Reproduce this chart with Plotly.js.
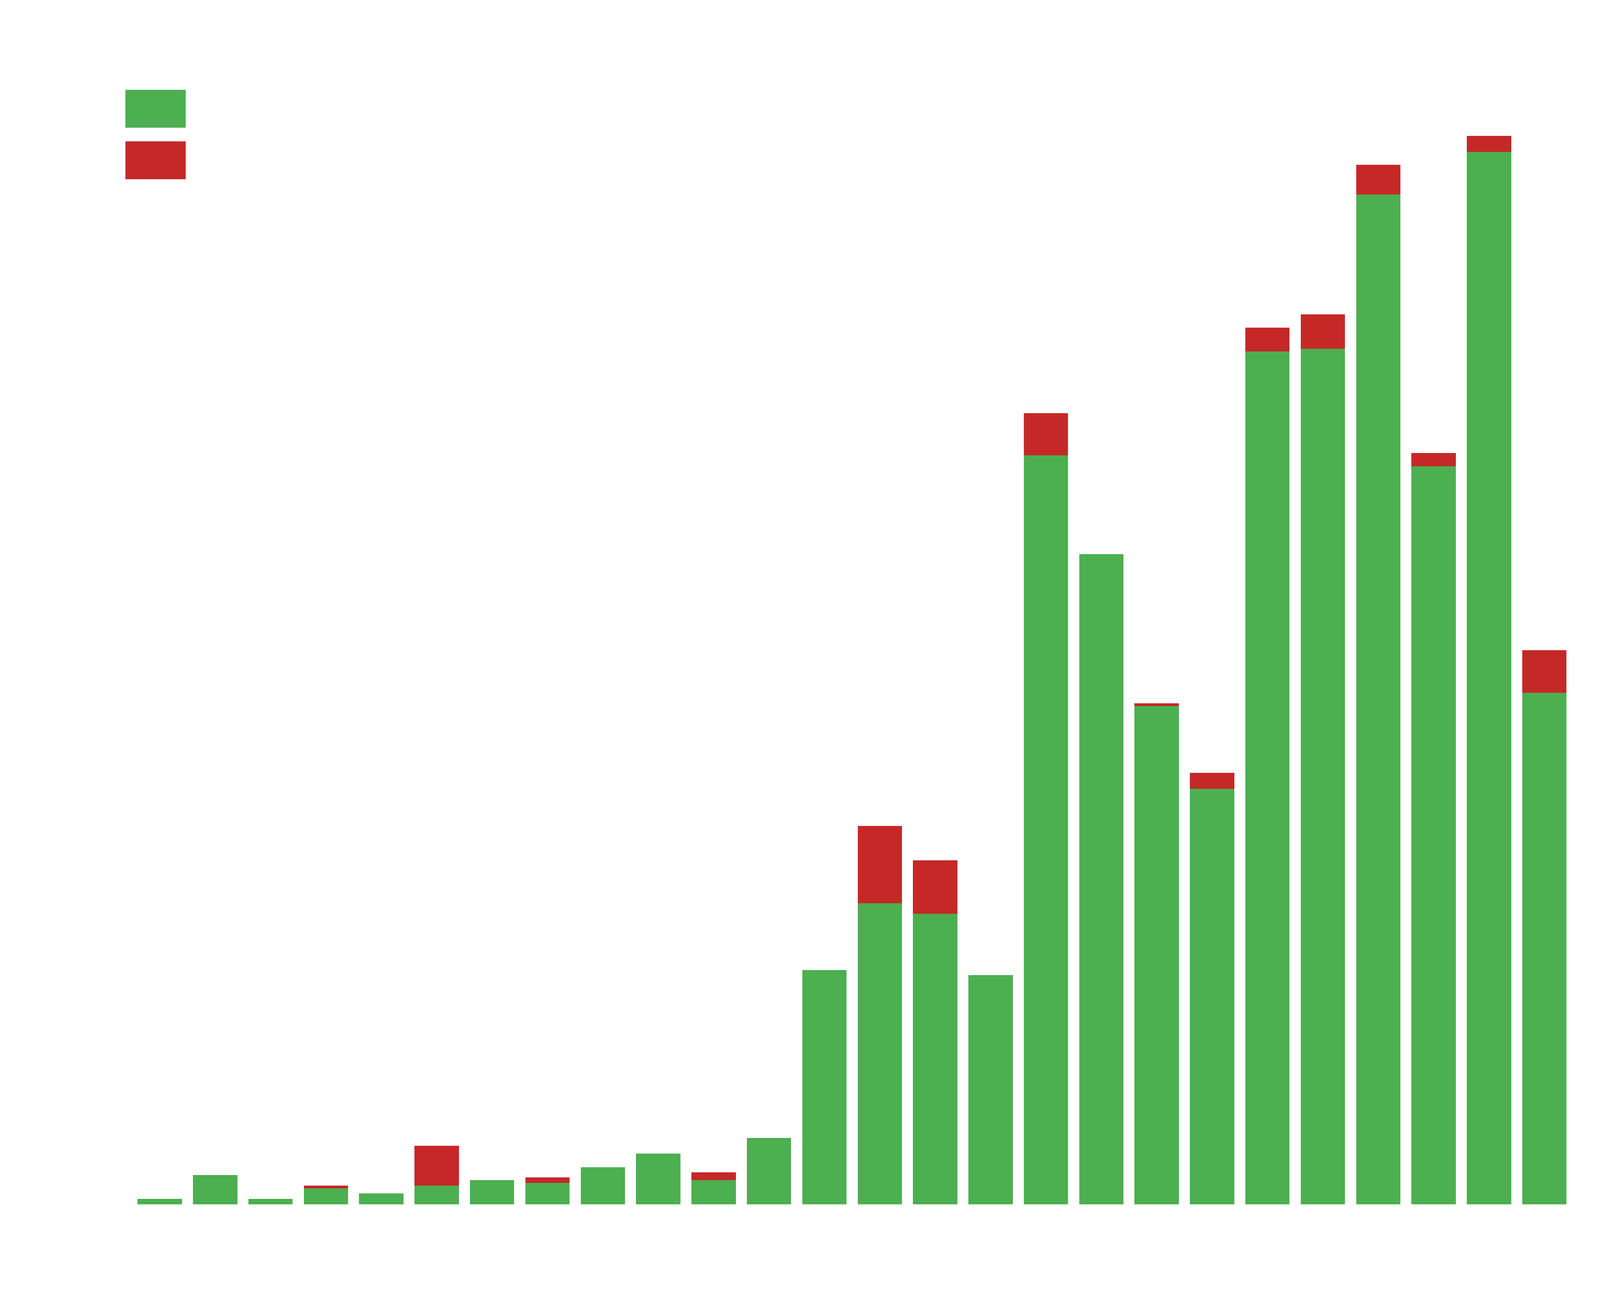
<!DOCTYPE html>
<html>
<head>
<meta charset="utf-8">
<script src="https://cdn.plot.ly/plotly-3.0.1.min.js"></script>
<style>
  html, body { margin: 0; padding: 0; background: #fff; overflow: hidden; }
  #plot { width: 100vw; height: 100vh; }
</style>
</head>
<body>
<div id="plot"></div>
<script>
// categories (no labels shown in the picture)
var cats = [0,1,2,3,4,5,6,7,8,9,10,11,12,13,14,15,16,17,18,19,20,21,22,23,24,25];
// lower (green) and upper (red) stacked values
var greenVals = [14,75,14,41,28,48,62,55,95,130,62,170,600,771,744,587,1918,1665,1276,1064,2184,2191,2586,1890,2695,1310];
var redVals   = [0,0,0,7,0,102,0,14,0,0,20,0,0,198,137,0,108,0,7,41,61,88,76,34,41,109];

var GREEN = '#4CAF50';
var RED = '#C62828';

function drawChart(){
  var PLOT = document.getElementById('plot');
  var W = window.innerWidth;
  var H = window.innerHeight;

  // reference picture size, used to place things as fractions of the page
  var refW = 5307, refH = 3352;
  var baseY = 3084;            // baseline of the bars in the reference
  function fx(x){ return x / refW; }
  function fy(y){ return (baseY - y) / baseY; }

  var trace1 = {
    x: cats,
    y: greenVals,
    type: 'bar',
    marker: {color: GREEN, line: {width: 0}},
    showlegend: false,
    hoverinfo: 'y'
  };
  var trace2 = {
    x: cats,
    y: redVals,
    type: 'bar',
    marker: {color: RED, line: {width: 0}},
    showlegend: false,
    hoverinfo: 'y'
  };

  var layout = {
    width: W,
    height: H,
    margin: {l: 0, r: 0, t: 0, b: Math.round(H * (refH - baseY) / refH), pad: 0},
    paper_bgcolor: '#ffffff',
    plot_bgcolor: '#ffffff',
    barmode: 'stack',
    bargap: 0.2,
    xaxis: {
      type: 'linear',
      range: [-2.885, 26.004],
      showgrid: false, zeroline: false, showline: false,
      showticklabels: false, ticks: ''
    },
    yaxis: {
      range: [0, baseY],
      showgrid: false, zeroline: false, showline: false,
      showticklabels: false, ticks: ''
    },
    // legend swatches (the legend has no text)
    shapes: [
      {type: 'rect', xref: 'paper', yref: 'paper',
       x0: fx(416), x1: fx(616), y0: fy(327), y1: fy(230),
       fillcolor: GREEN, line: {width: 0}},
      {type: 'rect', xref: 'paper', yref: 'paper',
       x0: fx(416), x1: fx(616), y0: fy(459), y1: fy(362),
       fillcolor: RED, line: {width: 0}}
    ],
    showlegend: false
  };

  Plotly.newPlot(PLOT, [trace1, trace2], layout, {displayModeBar: false, staticPlot: true});
}
drawChart();
</script>
</body>
</html>
